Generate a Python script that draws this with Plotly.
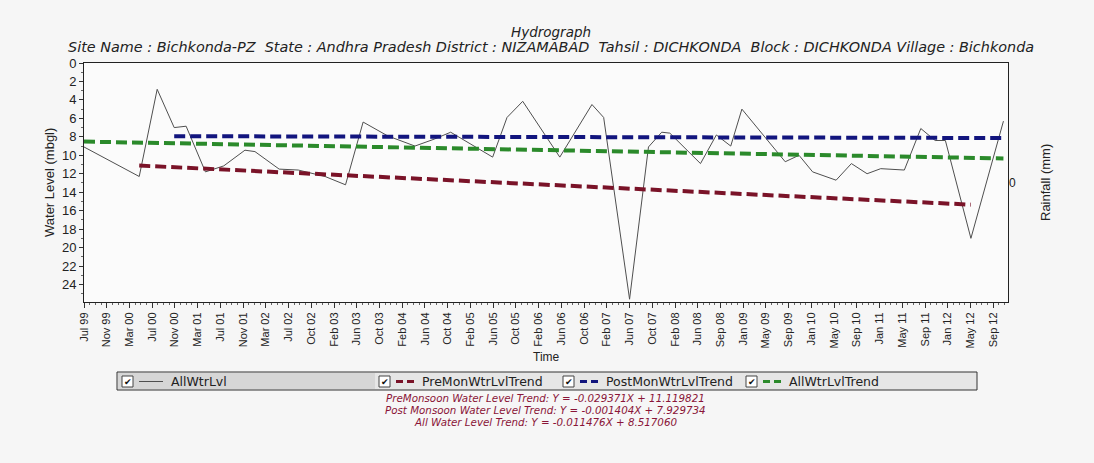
import plotly.graph_objects as go
import pandas as pd

# ---------------- data ----------------
dates = ["1999-07-15", "2000-05-02", "2000-08-05", "2000-11-03", "2001-01-05", "2001-04-17",
         "2001-07-23", "2001-11-12", "2002-01-04", "2002-05-12", "2002-08-21", "2003-01-10",
         "2003-04-28", "2003-07-30", "2003-12-07", "2004-04-29", "2004-08-09", "2004-11-04",
         "2005-06-14", "2005-08-29", "2005-11-20", "2006-06-04", "2006-11-21", "2007-01-22",
         "2007-06-08", "2007-09-16", "2007-11-25", "2008-01-07", "2008-06-17", "2008-09-09",
         "2008-11-24", "2009-01-22", "2009-09-08", "2009-11-20", "2010-01-31", "2010-06-04",
         "2010-08-24", "2010-11-15", "2011-01-26", "2011-05-31", "2011-08-26", "2011-11-10",
         "2012-01-03", "2012-05-17", "2012-11-05"]
levels = [9.1, 12.3, 2.85, 7.0, 6.85, 11.8, 11.15, 9.45, 9.6, 11.5,
          11.6, 12.3, 13.2, 6.4, 7.9, 9.0, 8.25, 7.5, 10.2, 5.9,
          4.15, 10.2, 4.5, 5.9, 25.6, 9.1, 7.5, 7.6, 10.9, 7.8,
          9.0, 5.0, 10.7, 10.0, 11.8, 12.7, 10.9, 12.0, 11.45, 11.6,
          7.1, 8.4, 8.4, 19.0, 6.3]

pre_dates = ["2000-05-02", "2012-05-17"]
pre_vals = [11.12, 15.35]
post_dates = ["2000-11-03", "2012-11-05"]
post_vals = [7.93, 8.13]
all_dates = ["1999-07-15", "2012-11-05"]
all_vals = [8.52, 10.34]

tick_labels = ["Jul 99", "Nov 99", "Mar 00", "Jul 00", "Nov 00", "Mar 01", "Jul 01", "Nov 01",
               "Mar 02", "Jul 02", "Oct 02", "Feb 03", "Jun 03", "Oct 03", "Feb 04", "Jun 04",
               "Oct 04", "Feb 05", "Jun 05", "Oct 05", "Feb 06", "Jun 06", "Oct 06", "Feb 07",
               "Jun 07", "Oct 07", "Feb 08", "Jun 08", "Sep 08", "Jan 09", "May 09", "Sep 09",
               "Jan 10", "May 10", "Sep 10", "Jan 11", "May 11", "Sep 11", "Jan 12", "May 12",
               "Sep 12"]
y_ticks = list(range(0, 26, 2))

# ---------------- geometry (pixels) ----------------
W, H = 1094, 463
L, R, T, B = 84, 1008, 63, 302

def xp(px):
    return (px - L) / (R - L)

def yp(py):
    return (B - py) / (B - T)

t0 = pd.Timestamp("1999-07-15")
step = 120.2  # days between labelled ticks
tickvals = [t0 + pd.Timedelta(days=step * i) for i in range(len(tick_labels))]
minor_vals = [t0 + pd.Timedelta(days=step * (i + k / 4)) for i in range(len(tick_labels) - 1) for k in (1, 2, 3)]
minor_vals += [t0 + pd.Timedelta(days=step * (40 + k / 4)) for k in (1, 2)]
x_end = t0 + pd.Timedelta(days=step * 40.65)

FONT = "Liberation Sans, Arial, sans-serif"
WIDE = "DejaVu Sans, Verdana, sans-serif"
RED, BLUE, GREEN = "#7a1328", "#12157e", "#2b8a2b"

fig = go.Figure()
fig.add_trace(go.Scatter(x=dates, y=levels, mode="lines", name="AllWtrLvl",
                         line=dict(color="#4f4f4f", width=1)))
fig.add_trace(go.Scatter(x=pre_dates, y=pre_vals, mode="lines", name="PreMonWtrLvlTrend",
                         line=dict(color=RED, width=4, dash="11px,5px")))
fig.add_trace(go.Scatter(x=post_dates, y=post_vals, mode="lines", name="PostMonWtrLvlTrend",
                         line=dict(color=BLUE, width=4, dash="11px,5px")))
fig.add_trace(go.Scatter(x=all_dates, y=all_vals, mode="lines", name="AllWtrLvlTrend",
                         line=dict(color=GREEN, width=4, dash="11px,5px")))
fig.add_trace(go.Scatter(x=[None], y=[None], yaxis="y2", showlegend=False, hoverinfo="skip"))

fig.update_layout(
    width=W, height=H,
    margin=dict(l=L, r=W - R, t=T, b=H - B),
    paper_bgcolor="#f6f6f6", plot_bgcolor="#fbfbfb",
    showlegend=False,
    font=dict(family=FONT, size=12, color="#222"),
    xaxis=dict(type="date", range=[t0, x_end], tickmode="array", tickvals=tickvals,
               ticktext=tick_labels, tickangle=-90, ticks="outside", ticklen=5,
               tickcolor="#333", showline=True, linecolor="#222", linewidth=1, mirror=True,
               showgrid=False, zeroline=False, tickfont=dict(size=11, color="#222"),
               minor=dict(tickmode="array", tickvals=minor_vals, ticks="outside", ticklen=2,
                          tickcolor="#666")),
    yaxis=dict(range=[25.9, 0], tickmode="array", tickvals=y_ticks, ticks="outside", ticklen=4,
               tickcolor="#333", showline=True, linecolor="#222", linewidth=1, mirror=True,
               showgrid=False, zeroline=False, tickfont=dict(size=13, color="#222"),
               minor=dict(dtick=1, ticks="outside", ticklen=2, tickcolor="#666")),
    yaxis2=dict(overlaying="y", side="right", range=[-1, 1], tickmode="array", tickvals=[0],
                ticktext=["0"], showgrid=False, zeroline=False, showline=False, ticks="",
                tickfont=dict(size=12, color="#222")),
)

ann = []
def text(px, py, s, size=12, color="#222", angle=0, xanchor="center", family=FONT):
    ann.append(dict(x=xp(px), y=yp(py), xref="paper", yref="paper", text=s, showarrow=False,
                    xanchor=xanchor, yanchor="middle", textangle=angle,
                    font=dict(family=family, size=size, color=color)))

NB = "\u00a0"
text(551, 32, "<i>Hydrograph</i>", 13.5, family=WIDE)
text(551, 47, "<i>Site Name : Bichkonda-PZ" + NB + NB + "State : Andhra Pradesh District : NIZAMABAD"
     + NB + NB + "Tahsil : DICHKONDA" + NB + NB + "Block : DICHKONDA Village : Bichkonda</i>", 14.4,
     family=WIDE)
text(49, 183, "Water Level (mbgl)", 13, angle=-90)
text(1045, 183, "Rainfall (mm)", 13, angle=-90)
text(546, 357, "Time", 12)
EQ = "#8a1538"
text(545, 398, "<i>PreMonsoon Water Level Trend: Y = -0.029371X + 11.119821</i>", 10.3, EQ, family=WIDE)
text(545, 410, "<i>Post Monsoon Water Level Trend: Y = -0.001404X + 7.929734</i>", 10.3, EQ, family=WIDE)
text(545, 422, "<i>All Water Level Trend: Y = -0.011476X + 8.517060</i>", 10.3, EQ, family=WIDE)

shapes = []
def rect(x0, y0, x1, y1, fill, line="#333", lw=1):
    shapes.append(dict(type="rect", xref="paper", yref="paper", x0=xp(x0), x1=xp(x1),
                       y0=yp(y0), y1=yp(y1), fillcolor=fill, line=dict(color=line, width=lw), layer="above"))

def seg(x0, x1, y, color, width, dash="solid"):
    shapes.append(dict(type="line", xref="paper", yref="paper", x0=xp(x0), x1=xp(x1),
                       y0=yp(y), y1=yp(y), line=dict(color=color, width=width, dash=dash), layer="above"))

# legend
rect(117, 372, 977, 390, "#e6e6e6", "#333", 1)
rect(118, 373, 375, 389, "#d6d6d6", "rgba(0,0,0,0)", 0)
items = [
    (122, "#4f4f4f", 1, "solid", "AllWtrLvl", 24),
    (379, RED, 3, "7px,4px", "PreMonWtrLvlTrend", 18),
    (563, BLUE, 3, "7px,4px", "PostMonWtrLvlTrend", 18),
    (746, GREEN, 3, "7px,4px", "AllWtrLvlTrend", 18),
]
for x0, col, lw, dash, label, llen in items:
    rect(x0, 376, x0 + 11, 387, "white", "#444", 1)
    text(x0 + 5.5, 381.5, "\u2714", 9, "#111")
    seg(x0 + 17, x0 + 17 + llen, 381.5, col, lw, dash)
    text(x0 + 23 + llen, 381.5, label, 12.5, "#222", xanchor="left", family=WIDE)

fig.update_layout(annotations=ann, shapes=shapes)

fig.write_html("out.html", config={"displayModeBar": False},
               post_script="document.body.style.margin='0';document.body.style.overflow='hidden';")
